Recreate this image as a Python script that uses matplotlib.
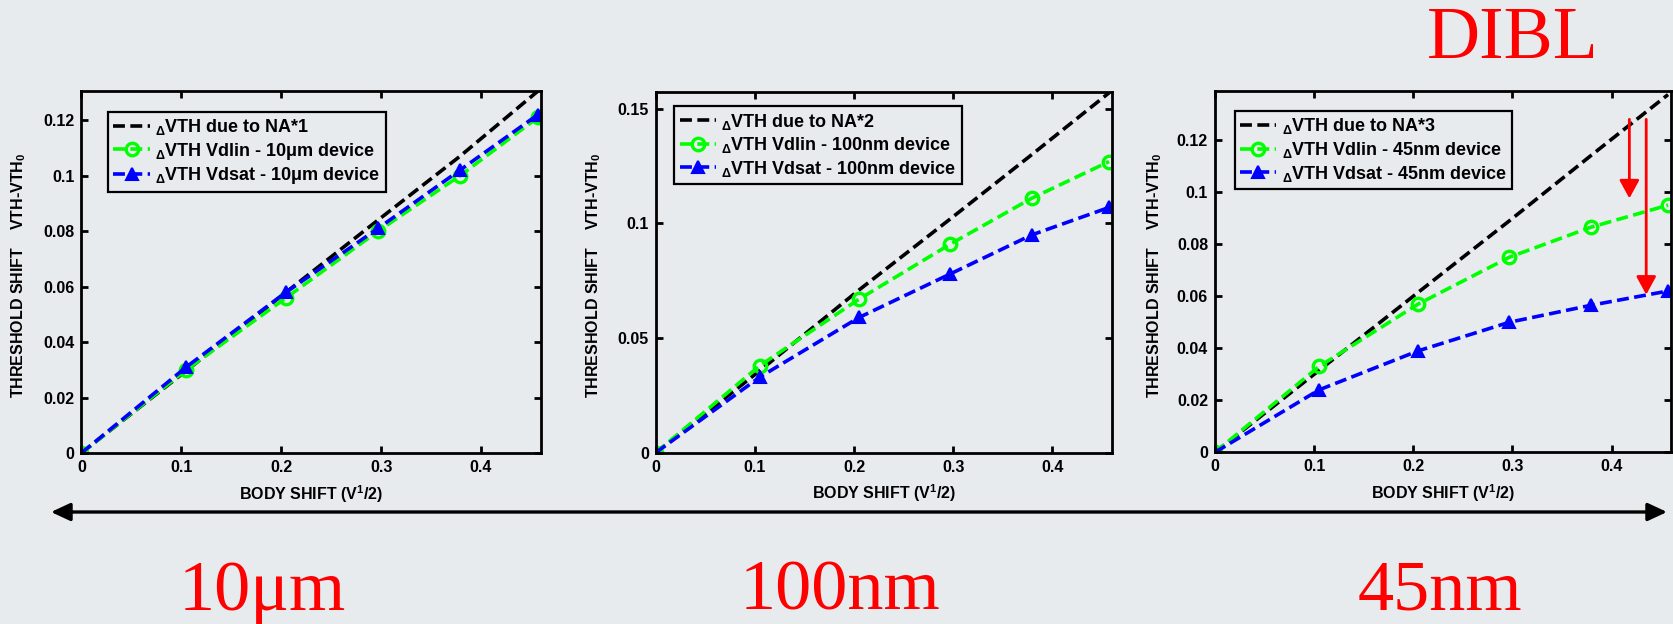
import matplotlib
matplotlib.use("Agg")
import matplotlib.pyplot as plt
from matplotlib.ticker import FuncFormatter
from matplotlib.patches import FancyArrowPatch

plt.rcParams['font.family'] = ['Liberation Sans', 'DejaVu Sans']
plt.rcParams['font.weight'] = 'bold'
plt.rcParams['mathtext.fontset'] = 'custom'
plt.rcParams['mathtext.rm'] = 'Liberation Sans:bold'
plt.rcParams['mathtext.bf'] = 'Liberation Sans:bold'
plt.rcParams['mathtext.it'] = 'Liberation Sans:bold'

BG = '#E8EBEE'

# ---- data ----
body_shift = [0, 0.105, 0.205, 0.297, 0.379, 0.457]

na1_ideal = [0, 0.0297, 0.058, 0.084, 0.107, 0.1305]
lin_10um = [0, 0.030, 0.056, 0.080, 0.100, 0.121]
sat_10um = [0, 0.031, 0.058, 0.081, 0.102, 0.122]

na2_ideal = [0, 0.0358, 0.071, 0.102, 0.130, 0.157]
lin_100nm = [0, 0.038, 0.067, 0.091, 0.111, 0.127]
sat_100nm = [0, 0.033, 0.059, 0.078, 0.095, 0.107]

na3_ideal = [0, 0.0315, 0.0615, 0.089, 0.114, 0.1375]
lin_45nm = [0, 0.033, 0.057, 0.075, 0.0865, 0.095]
sat_45nm = [0, 0.024, 0.039, 0.050, 0.0565, 0.062]

ideal_labels = ['NA*1', 'NA*2', 'NA*3']
device_labels = ['10\u03bcm', '100nm', '45nm']
yticks_list = [[0, 0.02, 0.04, 0.06, 0.08, 0.1, 0.12],
               [0, 0.05, 0.1, 0.15],
               [0, 0.02, 0.04, 0.06, 0.08, 0.1, 0.12]]
ylims = [0.1305, 0.1575, 0.139]
xticks = [0, 0.1, 0.2, 0.3, 0.4]

panels = [(na1_ideal, lin_10um, sat_10um),
          (na2_ideal, lin_100nm, sat_100nm),
          (na3_ideal, lin_45nm, sat_45nm)]

W, H = 1673, 624
fig = plt.figure(figsize=(W / 100, H / 100), dpi=100, facecolor=BG)

# axes boxes in pixels: left, right, top, bottom
boxes = [(81.4, 541, 91, 453), (655.7, 1112, 91.7, 452.7), (1215, 1671, 90.7, 452.3)]
leg_anchor = [(0.058, 0.943), (0.041, 0.960), (0.043, 0.944)]
ylab_x = [-0.116, -0.115, -0.112]

fmt = FuncFormatter(lambda v, p: ('%g' % round(v, 4)))
dash = (0, (3.3, 1.5))
LW = 2.6

axes = []
for i, (l, r, t, b) in enumerate(boxes):
    ax = fig.add_axes([l / W, (H - b) / H, (r - l) / W, (b - t) / H])
    ax.set_facecolor(BG)
    ideal, lin, sat = panels[i]
    ax.plot(body_shift, ideal, color='black', lw=LW, linestyle=dash,
            label='$_\\mathbf{\\Delta}$VTH due to ' + ideal_labels[i])
    ax.plot(body_shift, lin, color='#00FF00', lw=LW, linestyle=dash,
            marker='o', markersize=9, markerfacecolor='none', markeredgewidth=2.4,
            label='$_\\mathbf{\\Delta}$VTH Vdlin - ' + device_labels[i] + ' device')
    ax.plot(body_shift, sat, color='#0000FF', lw=LW, linestyle=dash,
            marker='^', markersize=9, markerfacecolor='#0000FF', markeredgewidth=1.5,
            label='$_\\mathbf{\\Delta}$VTH Vdsat - ' + device_labels[i] + ' device')
    ax.set_xlim(0, 0.46)
    ax.set_ylim(0, ylims[i])
    ax.set_xticks(xticks)
    ax.set_yticks(yticks_list[i])
    ax.xaxis.set_major_formatter(fmt)
    ax.yaxis.set_major_formatter(fmt)
    ax.tick_params(direction='in', length=5, width=2, top=True, right=True,
                   labelsize=11.5, pad=5)
    for lab in ax.get_xticklabels() + ax.get_yticklabels():
        lab.set_fontweight('bold')
    for s in ax.spines.values():
        s.set_linewidth(2)
    ax.set_xlabel('BODY SHIFT (V$^\\mathbf{1}$/2)', fontsize=11.5, fontweight='bold')
    ax.xaxis.set_label_coords(0.5, -0.083)
    ax.xaxis.label.set_va('top')
    ax.set_ylabel('THRESHOLD SHIFT    VTH-VTH$_\\mathbf{0}$', fontsize=11.5, fontweight='bold')
    ax.yaxis.set_label_coords(ylab_x[i], 0.49)
    leg = ax.legend(loc='upper left', bbox_to_anchor=leg_anchor[i], borderaxespad=0,
                    frameon=True, fancybox=False, framealpha=1,
                    facecolor=BG, edgecolor='black', borderpad=0.3,
                    labelspacing=0.2, handlelength=2.0, handletextpad=0.3,
                    numpoints=1, prop={'weight': 'bold', 'size': 13})
    leg.get_frame().set_linewidth(1.6)
    axes.append(ax)

# DIBL arrows on the 45nm panel
ax3 = axes[2]
for xa, ya in [(0.418, 0.0976), (0.435, 0.0606)]:
    ax3.annotate('', xy=(xa, ya), xytext=(xa, 0.128),
                 arrowprops=dict(arrowstyle='-|>,head_length=0.55,head_width=0.3',
                                 mutation_scale=20, lw=2, color='#FF0000',
                                 shrinkA=0, shrinkB=0))

# double-headed arrow under the charts
fig.add_artist(FancyArrowPatch(
    (51 / W, (H - 512) / H), (1667 / W, (H - 512) / H), transform=fig.transFigure,
    arrowstyle='<|-|>,head_length=0.58,head_width=0.27', mutation_scale=20,
    lw=2.4, color='black', shrinkA=0, shrinkB=0))

serif = ['Liberation Serif', 'DejaVu Serif']
text_x = [262, 840, 1440]
for x, t in zip(text_x, device_labels):
    fig.text(x / W, (H - 610) / H, t, color='#FF0000', fontsize=52,
             family=serif, weight='normal', ha='center', va='baseline')
fig.text(1513 / W, (H - 58) / H, 'DIBL', color='#FF0000', fontsize=53,
         family=serif, weight='normal', ha='center', va='baseline')

fig.savefig('out.png', dpi=100, facecolor=BG)
